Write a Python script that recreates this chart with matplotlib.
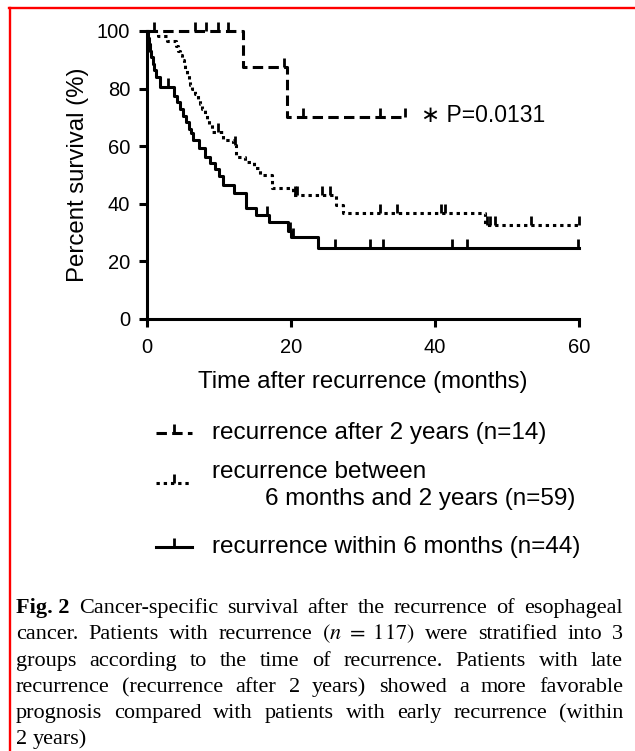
import matplotlib
matplotlib.use("Agg")
import matplotlib.pyplot as plt
import numpy as np
from matplotlib.markers import TICKUP

plt.rcParams['font.family'] = ['Liberation Sans', 'DejaVu Sans']
plt.rcParams['mathtext.fontset'] = 'stix'
plt.rcParams['lines.scale_dashes'] = False

# recurrence within 6 months (n=44): step times (months) and survival (%)
within_t = [0, 0.1, 0.25, 0.4, 0.6, 0.8, 1.0, 1.3, 1.8, 3.7, 4.2, 4.6, 5.0, 5.4, 5.8,
            6.1, 6.4, 7.2, 8.1, 8.8, 9.4, 10.0, 10.6, 12.1, 13.8, 15.2, 16.9, 19.6,
            20.0, 23.8, 60.0]
within_s = [100, 97.7, 95.5, 93.2, 90.9, 88.6, 86.4, 84.1, 80.7, 77.5, 75.2, 72.9, 70.6,
            68.3, 66.0, 64.5, 62.2, 59.3, 56.4, 54.1, 52.0, 49.7, 46.5, 43.6, 38.6, 36.1,
            33.8, 30.5, 28.3, 24.5, 24.5]
within_cens = [2.9, 16.7, 19.8, 20.3, 26.1, 31.0, 32.8, 42.3, 44.4, 59.9]

# recurrence between 6 months and 2 years (n=59)
between_t = [0, 1.5, 2.8, 4.0, 4.3, 4.6, 4.9, 5.1, 5.3, 5.6, 5.8, 6.0, 6.3, 6.6, 7.1,
             7.4, 7.7, 8.0, 8.3, 8.6, 9.0, 10.6, 12.0, 12.4, 13.6, 14.8, 15.7, 17.3,
             20.3, 26.2, 27.2, 47.0, 60.0]
between_s = [100, 98.3, 96.6, 94.9, 93.2, 91.5, 89.8, 88.1, 86.4, 84.7, 83.1, 81.4, 79.7,
             78.0, 76.3, 74.6, 72.9, 71.2, 69.5, 67.8, 65.0, 62.2, 60.3, 56.4, 54.6, 52.3,
             50.0, 45.4, 43.1, 39.6, 36.7, 32.6, 32.6]
between_cens = [1.0, 9.9, 12.2, 20.5, 20.8, 24.3, 25.4, 32.4, 34.7, 40.9, 41.4,
                47.2, 47.7, 48.4, 53.3, 60.0]

# recurrence after 2 years (n=14)
after_t = [0, 13.4, 19.4, 35.8]
after_s = [100, 87.5, 70.0, 70.0]
after_cens = [6.7, 8.2, 9.9, 11.3, 19.0, 21.7, 32.4, 35.8]

legend_labels = ["recurrence after 2 years (n=14)",
                 "recurrence between",
                 "6 months and 2 years (n=59)",
                 "recurrence within 6 months (n=44)"]
p_text = "\u2217 P=0.0131"

caption = [
    [("Fig. 2", True), ("Cancer-specific", False), ("survival", False), ("after", False),
     ("the", False), ("recurrence", False), ("of", False), ("esophageal", False)],
    [(w, False) for w in ["cancer.", "Patients", "with", "recurrence", r"$(n\ =\ 117)$",
                          "were", "stratified", "into", "3"]],
    [(w, False) for w in "groups according to the time of recurrence. Patients with late".split()],
    [(w, False) for w in "recurrence (recurrence after 2 years) showed a more favorable".split()],
    [(w, False) for w in "prognosis compared with patients with early recurrence (within".split()],
    [(w, False) for w in "2 years)".split()],
]

W, H = 635, 751
fig = plt.figure(figsize=(W / 100, H / 100), dpi=100)
ax = fig.add_axes([147 / W, 1 - 319 / H, 432 / W, 288 / H])

LW = 2.2
styles = {
    "after": dict(dashes=(7.5, 3.8)),
    "between": dict(dashes=(2.4, 2.8)),
    "within": dict(linestyle='-'),
}


def km(t, s, cens, style):
    ax.step(t, s, where='post', color='black', lw=LW, clip_on=False, **style)
    t = np.asarray(t)
    s = np.asarray(s)
    idx = np.searchsorted(t, cens, side='right') - 1
    ax.plot(cens, s[idx], linestyle='none', marker=TICKUP, markersize=6.5,
            mew=2.0, color='black', clip_on=False)


km(after_t, after_s, after_cens, styles["after"])
km(between_t, between_s, between_cens, styles["between"])
km(within_t, within_s, within_cens, styles["within"])

ax.set_xlim(0, 60)
ax.set_ylim(0, 100)
ax.set_xticks([0, 20, 40, 60])
ax.set_yticks([0, 20, 40, 60, 80, 100])
for side in ['top', 'right']:
    ax.spines[side].set_visible(False)
for side in ['left', 'bottom']:
    ax.spines[side].set_linewidth(2.2)
ax.tick_params(width=2.2, length=6, labelsize=14.5, color='black')
ax.tick_params(axis='x', pad=8)
ax.tick_params(axis='y', pad=6)
ax.set_xlabel("Time after recurrence (months)", fontsize=17.3, labelpad=10)
ax.set_ylabel("Percent survival (%)", fontsize=17.3, labelpad=6)
ax.text(38.0, 70.5, p_text, fontsize=16.5, va='center', ha='left')

# overlay in pixel coordinates for legend, caption and frame
ov = fig.add_axes([0, 0, 1, 1])
ov.set_xlim(0, W)
ov.set_ylim(H, 0)
ov.set_axis_off()

# frame
ov.plot([8.5, W + 5], [7.8, 7.8], color='red', lw=1.7, clip_on=False)
ov.plot([9.5, 9.5], [7.8, H + 5], color='red', lw=1.7, clip_on=False)

# legend
leg_rows = [(433, styles["after"]), (483, styles["between"]), (546.5, styles["within"])]
for y, st in leg_rows:
    ov.plot([156, 174, 192], [y, y, y], color='black', lw=LW, markevery=[1],
            marker=TICKUP, markersize=6.5, mew=2.0, **st)
ov.text(212, 433, legend_labels[0], fontsize=17.5, va='center')
ov.text(212, 471.5, legend_labels[1], fontsize=17.5, va='center')
ov.text(265, 498.5, legend_labels[2], fontsize=17.5, va='center')
ov.text(212, 546.5, legend_labels[3], fontsize=17.5, va='center')

# caption, justified
renderer = fig.canvas.get_renderer()
x0, x1 = 16, 623
baselines = [613, 639.3, 665.6, 692, 718.3, 744.3]
for li, (words, yb) in enumerate(zip(caption, baselines)):
    arts = [ov.text(0, yb, w, fontsize=16, family='Liberation Serif',
                    weight='bold' if b else 'normal', va='baseline', ha='left')
            for w, b in words]
    widths = [a.get_window_extent(renderer).width for a in arts]
    if li == len(caption) - 1:
        gap = 5.5
    else:
        gap = (x1 - x0 - sum(widths)) / (len(arts) - 1)
    x = x0
    for a, wd in zip(arts, widths):
        a.set_x(x)
        x += wd + gap

fig.savefig("out.png", dpi=100)
